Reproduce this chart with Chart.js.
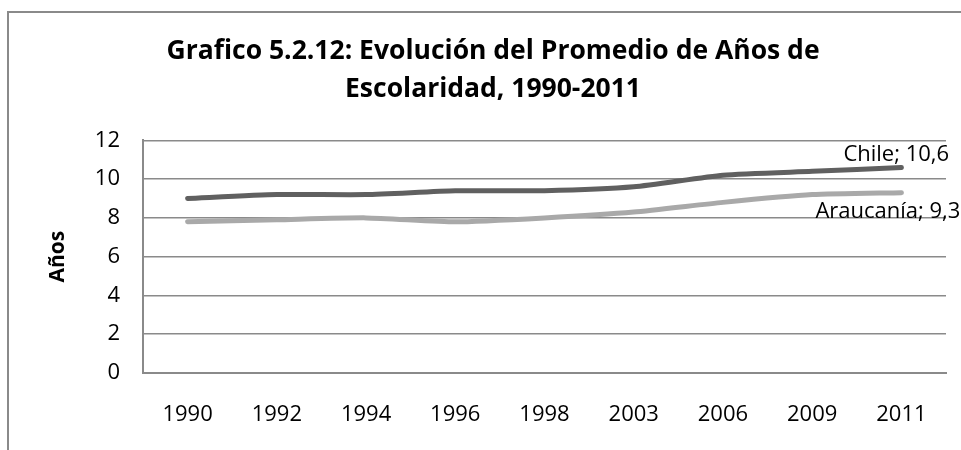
<!DOCTYPE html>
<html>
<head>
<meta charset="utf-8">
<script src="https://cdn.jsdelivr.net/npm/chart.js@4/dist/chart.umd.min.js"></script>
<style>
  html, body { margin: 0; padding: 0; background: #fff; }
  #marco { position: absolute; left: 0; top: 0; width: 961px; height: 450px; overflow: hidden; }
  #borde { position: absolute; left: 7px; top: 11px; width: 1000px; height: 500px;
           border-left: 2px solid #8a8a8a; border-top: 2px solid #8a8a8a; }
  #grafico { position: absolute; left: 0; top: 0; }
</style>
</head>
<body>
<div id="marco">
  <div id="borde"></div>
  <canvas id="grafico" width="961" height="450"></canvas>
</div>
<script>
// --- Datos ---
const anios = ['1990', '1992', '1994', '1996', '1998', '2003', '2006', '2009', '2011'];
const chile = [9.0, 9.2, 9.2, 9.4, 9.4, 9.6, 10.2, 10.4, 10.6];
const araucania = [7.8, 7.9, 8.0, 7.8, 8.0, 8.3, 8.8, 9.2, 9.3];
const nombres = ['Chile', 'Araucanía'];
const colores = ['#606060', '#a9a9a9'];
const tituloLineas = ['Grafico 5.2.12: Evolución del Promedio de Años de', 'Escolaridad, 1990-2011'];

const fuente = '"Open Sans", Lato, sans-serif';

// etiqueta del ultimo punto de cada serie ("Chile; 10,6")
const etiquetasFinales = {
    id: 'etiquetasFinales',
    afterDatasetsDraw(chart) {
        const ctx = chart.ctx;
        const desplazamientos = [[-58, -13], [-86, 19]];
        ctx.save();
        ctx.font = '22px ' + fuente;
        ctx.fillStyle = '#000';
        ctx.textAlign = 'left';
        ctx.textBaseline = 'middle';
        chart.data.datasets.forEach((ds, i) => {
            const meta = chart.getDatasetMeta(i);
            const ultimo = meta.data[meta.data.length - 1];
            const valor = ds.data[ds.data.length - 1];
            const texto = ds.label + '; ' + valor.toFixed(1).replace('.', ',');
            ctx.fillText(texto, ultimo.x + desplazamientos[i][0], ultimo.y + desplazamientos[i][1]);
        });
        ctx.restore();
    }
};

const ctx = document.getElementById('grafico').getContext('2d');
new Chart(ctx, {
    type: 'line',
    data: {
        labels: anios,
        datasets: [
            { label: nombres[0], data: chile, borderColor: colores[0], backgroundColor: colores[0] },
            { label: nombres[1], data: araucania, borderColor: colores[1], backgroundColor: colores[1] }
        ]
    },
    options: {
        responsive: false,
        animation: false,
        layout: { padding: { top: 0, right: 15, bottom: 0, left: 40 } },
        elements: {
            line: { borderWidth: 5, tension: 0.2, borderCapStyle: 'round', borderJoinStyle: 'round' },
            point: { radius: 0 }
        },
        plugins: {
            legend: { display: false },
            tooltip: { enabled: false },
            title: {
                display: true,
                text: tituloLineas,
                color: '#000',
                font: { family: fuente, size: 26.5, weight: 'bold', lineHeight: 1.44 },
                padding: { top: 32, bottom: 32 }
            }
        },
        scales: {
            x: {
                offset: true,
                grid: { display: false, drawTicks: false },
                border: { display: true, color: '#8a8a8a', width: 2 },
                ticks: { color: '#000', font: { family: fuente, size: 22 }, padding: 29, maxRotation: 0 },
                afterFit: s => { s.height = 77; }
            },
            y: {
                min: 0,
                max: 12,
                grid: { color: '#8a8a8a', lineWidth: 1.5, drawTicks: false },
                border: { display: true, color: '#8a8a8a', width: 2 },
                ticks: { stepSize: 2, color: '#000', font: { family: fuente, size: 22 }, padding: 23 },
                title: {
                    display: true,
                    text: 'Años',
                    color: '#000',
                    font: { family: fuente, size: 21, weight: 'bold', lineHeight: 1.2 },
                    padding: { top: 5, bottom: 0 }
                },
                afterFit: s => { s.width = 103; }
            }
        }
    },
    plugins: [etiquetasFinales]
});
</script>
</body>
</html>
